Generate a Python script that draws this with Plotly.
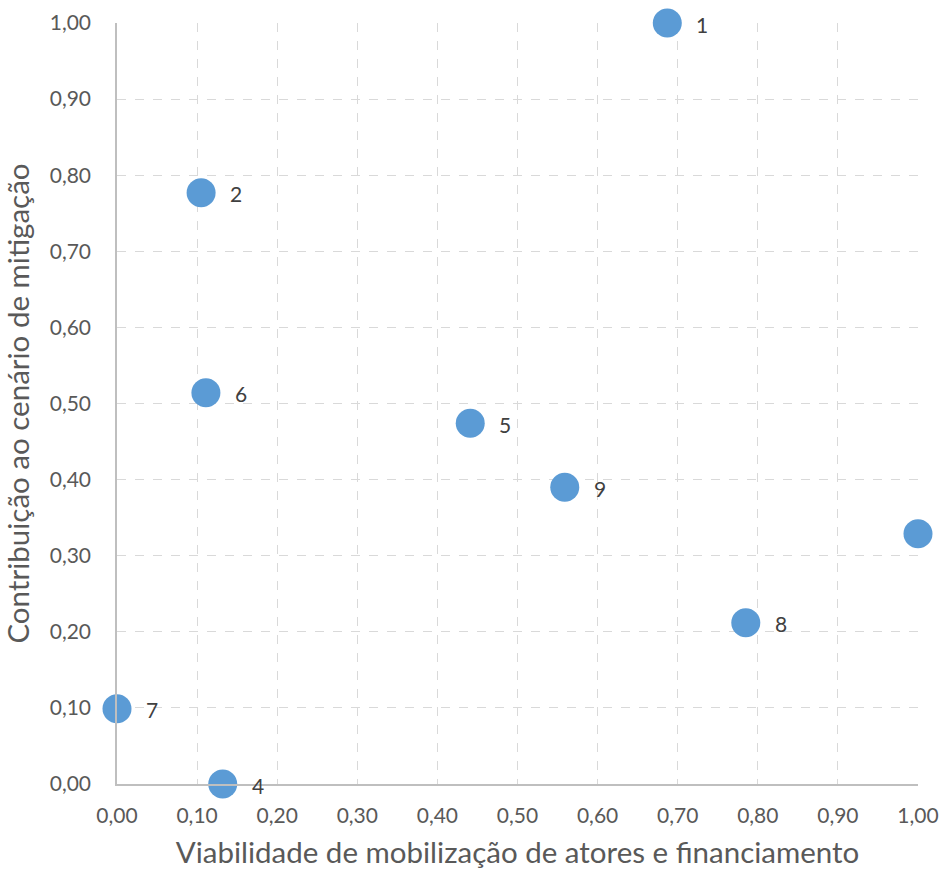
import plotly.graph_objects as go

labels = ["1", "2", "3", "4", "5", "6", "7", "8", "9"]
viabilidade = [0.687, 0.105, 1.00, 0.132, 0.441, 0.111, 0.00, 0.785, 0.559]
contribuicao = [1.00, 0.777, 0.329, 0.00, 0.474, 0.514, 0.099, 0.212, 0.390]
tick_vals = [0.0, 0.1, 0.2, 0.3, 0.4, 0.5, 0.6, 0.7, 0.8, 0.9, 1.0]
tick_text = ["0,00", "0,10", "0,20", "0,30", "0,40", "0,50", "0,60", "0,70", "0,80", "0,90", "1,00"]

FONT = "Lato"
fig = go.Figure()
fig.add_trace(go.Scatter(
    x=viabilidade, y=contribuicao, mode="markers",
    marker=dict(size=29, color="#5B9BD5", line=dict(width=0)),
    cliponaxis=False, hoverinfo="x+y",
))
for lab, xv, yv in zip(labels, viabilidade, contribuicao):
    if xv >= 1.0:
        continue  # label falls outside the chart area in the reference
    fig.add_annotation(x=xv, y=yv, text=lab, showarrow=False, xshift=35, yshift=-1,
                       font=dict(family=FONT, size=21, color="#404040"))

axis_common = dict(
    range=[0, 1], tickvals=tick_vals, ticktext=tick_text, automargin=False,
    showgrid=True, gridcolor="#D9D9D9", griddash="dash", gridwidth=1,
    showline=True, linecolor="#BFBFBF", linewidth=1.5, zeroline=False,
    ticks="", tickfont=dict(family=FONT, size=21, color="#595959"),
)
fig.update_xaxes(**axis_common, ticklabelstandoff=12,
                 title=dict(text="Viabilidade de mobilização de atores e financiamento",
                            font=dict(family=FONT, size=29.5, color="#595959"), standoff=16))
fig.update_yaxes(**axis_common, ticklabelstandoff=20,
                 title=dict(text="Contribuição ao cenário de mitigação",
                            font=dict(family=FONT, size=29.5, color="#595959"), standoff=16))
fig.update_layout(
    width=944, height=872, plot_bgcolor="white", paper_bgcolor="white",
    margin=dict(l=117, r=26, t=23, b=88), showlegend=False,
)
fig.write_html("out.html", config={"displayModeBar": False},
               post_script="document.body.style.margin='0';document.body.style.overflow='hidden';")
